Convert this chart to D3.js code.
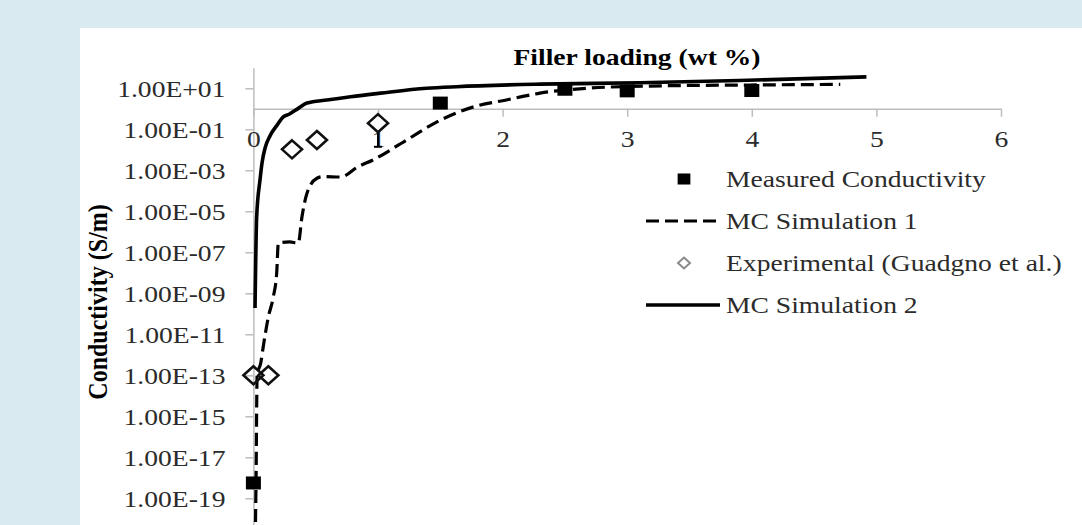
<!DOCTYPE html>
<html>
<head>
<meta charset="utf-8">
<script src="https://cdn.jsdelivr.net/npm/d3@7"></script>
<style>
  body { margin: 0; background: #d9ebf1; }
  svg { display: block; }
  text { font-family: "Liberation Serif", "Times New Roman", serif; }
</style>
</head>
<body>
<svg id="chart"></svg>
<script>
// data (x = filler loading wt %, y = conductivity S/m)
var measuredX = [0, 1.5, 2.5, 3, 4];
var measuredY = [5.6e-19, 1.9, 9, 7.5, 7.8];

var sim1X = [0.012, 0.021, 0.03, 0.059, 0.079, 0.12, 0.16, 0.187, 0.2, 0.29, 0.36, 0.39, 0.43, 0.51, 0.56, 0.7, 0.84, 0.96, 1.23, 1.5, 1.77, 2.03, 2.3, 2.67, 3.18, 3.98, 4.71];
var sim1Y = [1e-22, 5.6e-19, 1.1e-13, 4e-13, 2.5e-12, 7e-11, 6.8e-10, 1e-8, 2.8e-7, 3.2e-7, 2.8e-7, 5.5e-6, 7.6e-5, 4.1e-4, 4.9e-4, 4.7e-4, 1.5e-3, 3.2e-3, 3e-2, 0.28, 1.26, 2.7, 5.8, 10, 12.9, 14.5, 15.5];

var expX = [0, 0.12, 0.31, 0.51, 1.0];
var expY = [1e-13, 1e-13, 0.0105, 0.03, 0.2];
var expErrLow = [null, null, null, null, 0.014];

var sim2X = [0.013, 0.026, 0.053, 0.07, 0.095, 0.135, 0.19, 0.24, 0.29, 0.36, 0.43, 0.59, 0.78, 1.02, 1.39, 1.63, 2.3, 3.1, 3.9, 4.92];
var sim2Y = [1.9e-10, 5e-6, 3.4e-4, 2.5e-3, 1.3e-2, 5e-2, 0.16, 0.4, 0.56, 1.05, 1.9, 2.7, 3.9, 5.8, 10, 12, 16, 18.6, 24, 36];

var xTicks = [0, 1, 2, 3, 4, 5, 6];
var yTicks = [1e1, 1e-1, 1e-3, 1e-5, 1e-7, 1e-9, 1e-11, 1e-13, 1e-15, 1e-17, 1e-19];

var legendNames = ["Measured Conductivity", "MC Simulation 1", "Experimental (Guadgno et al.)", "MC Simulation 2"];

//sizes
var W = 1082, H = 525;
var stretch = 1.15;   // the picture is a bit wider than tall
var dash = "13,6";

var svg = d3.select("#chart").attr("width", W).attr("height", H);

//white panel
svg.append("rect")
	.attr("x", 80).attr("y", 28)
	.attr("width", W - 80).attr("height", H - 28)
	.attr("fill", "#fff");

var x = d3.scaleLinear().domain([0, 6]).range([253.4, 1001]);
var y = d3.scaleLog().domain([1e-22, 1e2]).range([67.8 + 24 * 20.5, 67.8]);

function fmtE(d){
	var e = Math.round(Math.log10(d));
	return "1.00E" + (e < 0 ? "-" : "+") + String(Math.abs(e)).padStart(2, "0");
}

//y axis
var gy = svg.append("g")
	.attr("transform", "translate(" + x(0) + ",0)")
	.call(d3.axisLeft(y).tickValues(yTicks).tickFormat(fmtE).tickSize(8).tickSizeOuter(0));
gy.select(".domain").attr("stroke", "#bdbdbd").attr("stroke-width", 1.5);
gy.selectAll(".tick line").attr("stroke", "#bdbdbd").attr("stroke-width", 1.5);
gy.selectAll(".tick text")
	.attr("x", -24.3).attr("dy", "0.34em")
	.attr("transform", "scale(" + stretch + ",1)")
	.attr("font-size", 24).attr("fill", "#2b2b2b")
	.attr("font-family", "Liberation Serif, serif");

//x axis crosses at 1
var gx = svg.append("g")
	.attr("transform", "translate(0," + y(1) + ")")
	.call(d3.axisBottom(x).tickValues(xTicks).tickFormat(d3.format("d")).tickSize(8).tickSizeOuter(0));
gx.select(".domain").attr("stroke", "#bdbdbd").attr("stroke-width", 1.5);
gx.selectAll(".tick line").attr("stroke", "#bdbdbd").attr("stroke-width", 1.5);
gx.selectAll(".tick text")
	.attr("y", 38).attr("dy", null)
	.attr("transform", "scale(" + stretch + ",1)")
	.attr("font-size", 24).attr("fill", "#2b2b2b")
	.attr("font-family", "Liberation Serif, serif");

//titles
svg.append("text")
	.text("Filler loading (wt %)")
	.attr("transform", "translate(637,65) scale(" + stretch + ",1)")
	.attr("text-anchor", "middle")
	.attr("font-size", 24).attr("font-weight", "bold");

svg.append("text")
	.text("Conductivity (S/m)")
	.attr("transform", "translate(107,302) scale(" + stretch + ",1) rotate(-90)")
	.attr("text-anchor", "middle")
	.attr("font-size", 24).attr("font-weight", "bold");

//series
var plot = svg.append("g");
var line = d3.line()
	.x(function(d) { return x(d[0]); })
	.y(function(d) { return y(d[1]); })
	.curve(d3.curveMonotoneX);

var measured = d3.zip(measuredX, measuredY);
var sim1 = d3.zip(sim1X, sim1Y);
var exper = expX.map(function(v, i) { return [v, expY[i], expErrLow[i]]; });
var sim2 = d3.zip(sim2X, sim2Y);

function square(s){ return "M" + (-7.5 * s) + "," + (-6.5 * s) + "h" + (15 * s) + "v" + (13 * s) + "h" + (-15 * s) + "Z"; }
function diamond(s){ return "M0," + (-9 * s) + "L" + (10 * s) + ",0L0," + (9 * s) + "L" + (-10 * s) + ",0Z"; }

plot.selectAll("path.meas")
	.data(measured)
	.enter().append("path")
	.attr("class", "meas")
	.attr("d", square(1))
	.attr("transform", function(d) { return "translate(" + x(d[0]) + "," + y(d[1]) + ")"; })
	.attr("fill", "#000");

plot.append("path")
	.datum(sim1)
	.attr("d", line)
	.attr("fill", "none").attr("stroke", "#000")
	.attr("stroke-width", 3.2).attr("stroke-dasharray", dash);

//error bars on experimental points
plot.selectAll("g.err")
	.data(exper.filter(function(d) { return d[2] != null; }))
	.enter().append("g")
	.attr("class", "err")
	.each(function(d){
		var g = d3.select(this);
		g.append("line")
			.attr("x1", x(d[0])).attr("x2", x(d[0]))
			.attr("y1", y(d[1]) + 9).attr("y2", y(d[2]))
			.attr("stroke", "#000").attr("stroke-width", 2);
		g.append("line")
			.attr("x1", x(d[0]) - 4).attr("x2", x(d[0]) + 4)
			.attr("y1", y(d[2])).attr("y2", y(d[2]))
			.attr("stroke", "#000").attr("stroke-width", 2);
	});

plot.selectAll("path.exp")
	.data(exper)
	.enter().append("path")
	.attr("class", "exp")
	.attr("d", diamond(1))
	.attr("transform", function(d) { return "translate(" + x(d[0]) + "," + y(d[1]) + ")"; })
	.attr("fill", "none").attr("stroke", "#111").attr("stroke-width", 2.6);

plot.append("path")
	.datum(sim2)
	.attr("d", line)
	.attr("fill", "none").attr("stroke", "#000")
	.attr("stroke-width", 3.6);

//legend
var leg = svg.append("g").attr("class", "legend");
var rowY = [179, 221, 263, 305];

leg.append("path").attr("d", square(0.85))
	.attr("transform", "translate(684," + rowY[0] + ")").attr("fill", "#000");
leg.append("line")
	.attr("x1", 646).attr("x2", 720).attr("y1", rowY[1]).attr("y2", rowY[1])
	.attr("stroke", "#000").attr("stroke-width", 3.2).attr("stroke-dasharray", dash);
leg.append("path").attr("d", diamond(0.6))
	.attr("transform", "translate(684," + rowY[2] + ")")
	.attr("fill", "none").attr("stroke", "#8a8a8a").attr("stroke-width", 2);
leg.append("line")
	.attr("x1", 646).attr("x2", 720).attr("y1", rowY[3]).attr("y2", rowY[3])
	.attr("stroke", "#000").attr("stroke-width", 3.6);

leg.selectAll("text")
	.data(legendNames)
	.enter().append("text")
	.text(function(d) { return d; })
	.attr("transform", function(d, i) { return "translate(726," + rowY[i] + ") scale(" + stretch + ",1)"; })
	.attr("dy", "0.34em")
	.attr("font-size", 24).attr("fill", "#2b2b2b");
</script>
</body>
</html>
